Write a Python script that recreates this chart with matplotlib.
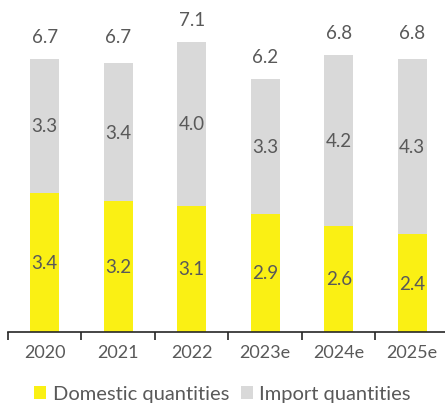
import matplotlib.pyplot as plt
import numpy as np

# Data
years = ["2020", "2021", "2022", "2023e", "2024e", "2025e"]
domestic = [3.4, 3.2, 3.1, 2.9, 2.6, 2.4]
imports = [3.3, 3.4, 4.0, 3.3, 4.2, 4.3]
totals = [6.7, 6.7, 7.1, 6.2, 6.8, 6.8]

yellow = "#FAF014"
grey = "#D9D9D9"
txt = "#595959"

plt.rcParams['font.family'] = ['Lato', 'DejaVu Sans']

fig = plt.figure(figsize=(4.45, 4.06), dpi=100)
ax = fig.add_axes([8 / 445, 73 / 406, 441 / 445, 333 / 406])

x = np.arange(len(years))
ax.bar(x, domestic, width=0.4, color=yellow, label="Domestic quantities")
ax.bar(x, imports, width=0.4, bottom=domestic, color=grey, label="Import quantities")

# Labels
for i in range(len(years)):
    ax.text(x[i], domestic[i] / 2, f"{domestic[i]:.1f}", ha="center", va="center",
            fontsize=13.5, color=txt)
    ax.text(x[i], domestic[i] + imports[i] / 2, f"{imports[i]:.1f}", ha="center",
            va="center", fontsize=13.5, color=txt)
    ax.text(x[i], totals[i] + 0.55, f"{totals[i]:.1f}", ha="center", va="center",
            fontsize=13.5, color=txt)

ax.set_xlim(-0.5, 5.5)
ax.set_ylim(0, 333 / 40.8)
ax.set_yticks([])
for s in ["top", "right", "left"]:
    ax.spines[s].set_visible(False)
ax.spines["bottom"].set_color("#262626")
ax.spines["bottom"].set_linewidth(1.2)

ax.set_xticks(x)
ax.set_xticklabels(years, fontsize=13, color=txt)
ax.tick_params(axis="x", which="major", length=0, pad=9)
ax.set_xticks(np.arange(-0.5, 6.0, 1.0), minor=True)
ax.tick_params(axis="x", which="minor", length=6, width=1.2, color="#262626")

leg = fig.legend(loc="center", bbox_to_anchor=(0.5, 11 / 406), ncol=2, frameon=False,
                 fontsize=14.5, handlelength=0.6, handleheight=0.6, handletextpad=0.3,
                 columnspacing=0.6, labelcolor=txt)

fig.savefig("out.png", dpi=100)
